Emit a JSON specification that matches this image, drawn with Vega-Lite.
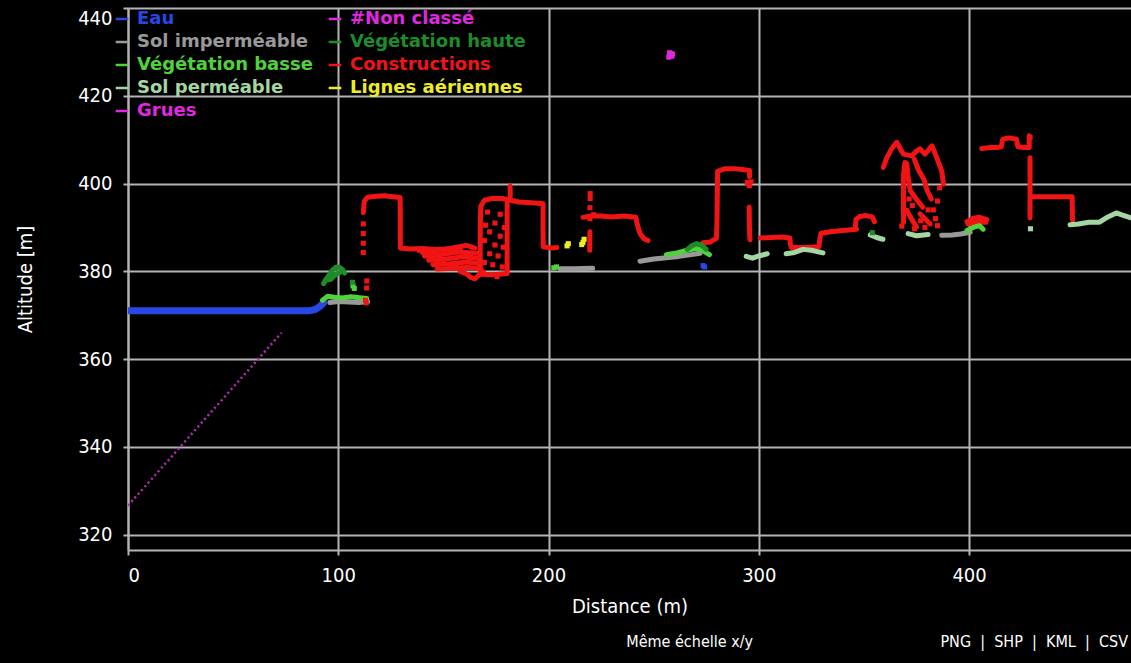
{
  "$schema": "https://vega.github.io/schema/vega-lite/v6.json",
  "width": 1003,
  "height": 542,
  "autosize": {"type": "none"},
  "padding": {"left": 128, "top": 8, "right": 0, "bottom": 113},
  "background": "#000000",
  "title": {
    "text": "Même échelle x/y\u00a0\u00a0\u00a0\u00a0\u00a0\u00a0\u00a0\u00a0\u00a0\u00a0\u00a0\u00a0\u00a0\u00a0\u00a0\u00a0\u00a0\u00a0\u00a0\u00a0\u00a0\u00a0\u00a0\u00a0\u00a0\u00a0\u00a0\u00a0\u00a0\u00a0\u00a0\u00a0\u00a0\u00a0\u00a0\u00a0\u00a0\u00a0\u00a0\u00a0\u00a0PNG\u00a0\u00a0|\u00a0\u00a0SHP\u00a0\u00a0|\u00a0\u00a0KML\u00a0\u00a0|\u00a0\u00a0CSV",
    "orient": "bottom",
    "anchor": "end",
    "color": "#ffffff",
    "font": "DejaVu Sans Condensed, Liberation Sans Narrow, DejaVu Sans",
    "fontSize": 16,
    "fontWeight": "normal",
    "offset": 18,
    "dx": -3
  },
  "datasets": {
    "slope": [
      {"x": 0, "y": 326.6},
      {"x": 73, "y": 366.0}
    ],
    "lines": [
      {"s":"e1","c":"Eau","i":1,"x":0,"y":371.0},
      {"s":"e1","c":"Eau","i":2,"x":30,"y":371.0},
      {"s":"e1","c":"Eau","i":3,"x":60,"y":371.0},
      {"s":"e1","c":"Eau","i":4,"x":86,"y":371.0},
      {"s":"e1","c":"Eau","i":5,"x":89,"y":371.3},
      {"s":"e1","c":"Eau","i":6,"x":91,"y":371.9},
      {"s":"e1","c":"Eau","i":7,"x":93,"y":372.8},

      {"s":"si1","c":"Sol imperméable","i":1,"x":96,"y":372.9},
      {"s":"si1","c":"Sol imperméable","i":2,"x":100,"y":373.1},
      {"s":"si1","c":"Sol imperméable","i":3,"x":105,"y":373.0},
      {"s":"si1","c":"Sol imperméable","i":4,"x":110,"y":372.9},
      {"s":"si1","c":"Sol imperméable","i":5,"x":114,"y":373.1},

      {"s":"vb1","c":"Végétation basse","i":1,"x":92.5,"y":373.4},
      {"s":"vb1","c":"Végétation basse","i":2,"x":95,"y":374.3},
      {"s":"vb1","c":"Végétation basse","i":3,"x":98,"y":374.1},
      {"s":"vb1","c":"Végétation basse","i":4,"x":102,"y":373.9},
      {"s":"vb1","c":"Végétation basse","i":5,"x":106,"y":374.2},
      {"s":"vb1","c":"Végétation basse","i":6,"x":110,"y":374.0},
      {"s":"vb1","c":"Végétation basse","i":7,"x":113.5,"y":373.8},

      {"s":"vh1","c":"Végétation haute","i":1,"x":93,"y":377.2},
      {"s":"vh1","c":"Végétation haute","i":2,"x":94.5,"y":378.4},
      {"s":"vh1","c":"Végétation haute","i":3,"x":96,"y":379.4},
      {"s":"vh1","c":"Végétation haute","i":4,"x":97.5,"y":380.4},
      {"s":"vh1","c":"Végétation haute","i":5,"x":99,"y":381.0},
      {"s":"vh1","c":"Végétation haute","i":6,"x":100.5,"y":380.9},
      {"s":"vh1","c":"Végétation haute","i":7,"x":102,"y":380.4},
      {"s":"vh1","c":"Végétation haute","i":8,"x":103,"y":379.6},
      {"s":"vh2","c":"Végétation haute","i":1,"x":94,"y":378.0},
      {"s":"vh2","c":"Végétation haute","i":2,"x":96.5,"y":378.2},
      {"s":"vh2","c":"Végétation haute","i":3,"x":99,"y":379.4},
      {"s":"vh2","c":"Végétation haute","i":4,"x":101,"y":379.8},

      {"s":"c1","c":"Constructions","i":1,"x":111.9,"y":393.4},
      {"s":"c1","c":"Constructions","i":2,"x":112.4,"y":396.0},
      {"s":"c1","c":"Constructions","i":3,"x":114,"y":396.9},
      {"s":"c1","c":"Constructions","i":4,"x":118,"y":397.1},
      {"s":"c1","c":"Constructions","i":5,"x":122,"y":397.2},
      {"s":"c1","c":"Constructions","i":6,"x":126,"y":397.0},
      {"s":"c1","c":"Constructions","i":7,"x":129.4,"y":396.8},
      {"s":"c1","c":"Constructions","i":8,"x":129.5,"y":393},
      {"s":"c1","c":"Constructions","i":9,"x":129.5,"y":389},
      {"s":"c1","c":"Constructions","i":10,"x":129.5,"y":385.3},
      {"s":"c1","c":"Constructions","i":11,"x":134,"y":385.1},
      {"s":"c1","c":"Constructions","i":12,"x":140,"y":385.2},
      {"s":"c1","c":"Constructions","i":13,"x":146,"y":385.0},
      {"s":"c1","c":"Constructions","i":14,"x":152,"y":385.1},
      {"s":"c1","c":"Constructions","i":15,"x":158,"y":385.0},

      {"s":"m1","c":"Constructions","i":1,"x":140,"y":384.3},
      {"s":"m1","c":"Constructions","i":2,"x":148,"y":384.8},
      {"s":"m1","c":"Constructions","i":3,"x":155,"y":385.4},
      {"s":"m1","c":"Constructions","i":4,"x":161,"y":385.9},
      {"s":"m1","c":"Constructions","i":5,"x":165,"y":385.3},
      {"s":"m2","c":"Constructions","i":1,"x":141,"y":383.5},
      {"s":"m2","c":"Constructions","i":2,"x":149,"y":383.8},
      {"s":"m2","c":"Constructions","i":3,"x":157,"y":384.4},
      {"s":"m2","c":"Constructions","i":4,"x":166,"y":384.1},
      {"s":"m3","c":"Constructions","i":1,"x":143,"y":382.5},
      {"s":"m3","c":"Constructions","i":2,"x":151,"y":382.8},
      {"s":"m3","c":"Constructions","i":3,"x":159,"y":383.3},
      {"s":"m3","c":"Constructions","i":4,"x":167,"y":382.9},
      {"s":"m4","c":"Constructions","i":1,"x":145,"y":381.5},
      {"s":"m4","c":"Constructions","i":2,"x":153,"y":381.7},
      {"s":"m4","c":"Constructions","i":3,"x":161,"y":382.1},
      {"s":"m4","c":"Constructions","i":4,"x":168,"y":381.7},
      {"s":"m5","c":"Constructions","i":1,"x":147,"y":380.5},
      {"s":"m5","c":"Constructions","i":2,"x":155,"y":380.7},
      {"s":"m5","c":"Constructions","i":3,"x":162,"y":380.9},
      {"s":"m5","c":"Constructions","i":4,"x":168,"y":380.5},
      {"s":"m6","c":"Constructions","i":1,"x":158,"y":380.0},
      {"s":"m6","c":"Constructions","i":2,"x":161,"y":379.4},
      {"s":"m6","c":"Constructions","i":3,"x":163,"y":378.6},
      {"s":"m6","c":"Constructions","i":4,"x":165,"y":378.3},
      {"s":"m6","c":"Constructions","i":5,"x":167,"y":379.2},
      {"s":"m6","c":"Constructions","i":6,"x":169,"y":379.8},

      {"s":"b2","c":"Constructions","i":1,"x":167.5,"y":380.0},
      {"s":"b2","c":"Constructions","i":2,"x":167.5,"y":384},
      {"s":"b2","c":"Constructions","i":3,"x":167.5,"y":388},
      {"s":"b2","c":"Constructions","i":4,"x":167.6,"y":392},
      {"s":"b2","c":"Constructions","i":5,"x":167.8,"y":394.8},
      {"s":"b2","c":"Constructions","i":6,"x":169.5,"y":396.2},
      {"s":"b2","c":"Constructions","i":7,"x":173,"y":396.6},
      {"s":"b2","c":"Constructions","i":8,"x":178,"y":396.6},
      {"s":"b2","c":"Constructions","i":9,"x":181,"y":396.3},
      {"s":"b2","c":"Constructions","i":10,"x":186,"y":395.8},
      {"s":"b2","c":"Constructions","i":11,"x":192,"y":395.6},
      {"s":"b2","c":"Constructions","i":12,"x":197.4,"y":395.4},
      {"s":"b2","c":"Constructions","i":13,"x":197.4,"y":392},
      {"s":"b2","c":"Constructions","i":14,"x":197.4,"y":388.5},
      {"s":"b2","c":"Constructions","i":15,"x":197.5,"y":385.6},
      {"s":"b2","c":"Constructions","i":16,"x":201,"y":385.3},
      {"s":"b2","c":"Constructions","i":17,"x":204,"y":385.4},
      {"s":"b2r","c":"Constructions","i":1,"x":180.3,"y":379.6},
      {"s":"b2r","c":"Constructions","i":2,"x":180.3,"y":384},
      {"s":"b2r","c":"Constructions","i":3,"x":180.3,"y":388},
      {"s":"b2r","c":"Constructions","i":4,"x":180.3,"y":392},
      {"s":"b2r","c":"Constructions","i":5,"x":180.3,"y":395.6},
      {"s":"b2b","c":"Constructions","i":1,"x":167.5,"y":379.4},
      {"s":"b2b","c":"Constructions","i":2,"x":171,"y":379.2},
      {"s":"b2b","c":"Constructions","i":3,"x":175,"y":379.3},
      {"s":"b2b","c":"Constructions","i":4,"x":180.3,"y":379.5},
      {"s":"b2s","c":"Constructions","i":1,"x":181.7,"y":396.4},
      {"s":"b2s","c":"Constructions","i":2,"x":181.8,"y":398},
      {"s":"b2s","c":"Constructions","i":3,"x":181.7,"y":399.4},

      {"s":"c3","c":"Constructions","i":1,"x":216.4,"y":392.3},
      {"s":"c3","c":"Constructions","i":2,"x":220,"y":392.6},
      {"s":"c3","c":"Constructions","i":3,"x":225,"y":392.6},
      {"s":"c3","c":"Constructions","i":4,"x":230,"y":392.4},
      {"s":"c3","c":"Constructions","i":5,"x":236,"y":392.6},
      {"s":"c3","c":"Constructions","i":6,"x":241.5,"y":392.3},
      {"s":"c3","c":"Constructions","i":7,"x":242.3,"y":390.5},
      {"s":"c3","c":"Constructions","i":8,"x":243.5,"y":388.6},
      {"s":"c3","c":"Constructions","i":9,"x":245.5,"y":387.4},
      {"s":"c3","c":"Constructions","i":10,"x":247.3,"y":387.0},
      {"s":"c3v","c":"Constructions","i":1,"x":219.6,"y":384.8},
      {"s":"c3v","c":"Constructions","i":2,"x":219.6,"y":386.8},
      {"s":"c3v","c":"Constructions","i":3,"x":219.7,"y":389.0},

      {"s":"c4","c":"Constructions","i":1,"x":273.5,"y":386.5},
      {"s":"c4","c":"Constructions","i":2,"x":277,"y":386.7},
      {"s":"c4","c":"Constructions","i":3,"x":279.8,"y":387.5},
      {"s":"c4","c":"Constructions","i":4,"x":280.1,"y":391},
      {"s":"c4","c":"Constructions","i":5,"x":280.2,"y":395},
      {"s":"c4","c":"Constructions","i":6,"x":280.3,"y":399},
      {"s":"c4","c":"Constructions","i":7,"x":280.4,"y":402.8},
      {"s":"c4","c":"Constructions","i":8,"x":284,"y":403.4},
      {"s":"c4","c":"Constructions","i":9,"x":288,"y":403.4},
      {"s":"c4","c":"Constructions","i":10,"x":292,"y":403.2},
      {"s":"c4","c":"Constructions","i":11,"x":295.6,"y":403.0},
      {"s":"c4","c":"Constructions","i":12,"x":295.6,"y":401.6},
      {"s":"c4r","c":"Constructions","i":1,"x":295.4,"y":394.6},
      {"s":"c4r","c":"Constructions","i":2,"x":295.5,"y":391.5},
      {"s":"c4r","c":"Constructions","i":3,"x":295.6,"y":389},
      {"s":"c4r","c":"Constructions","i":4,"x":295.8,"y":387.2},

      {"s":"c5","c":"Constructions","i":1,"x":300.6,"y":387.6},
      {"s":"c5","c":"Constructions","i":2,"x":306,"y":387.7},
      {"s":"c5","c":"Constructions","i":3,"x":311,"y":387.8},
      {"s":"c5","c":"Constructions","i":4,"x":314.8,"y":387.6},
      {"s":"c5","c":"Constructions","i":5,"x":315.0,"y":386.2},
      {"s":"c5","c":"Constructions","i":6,"x":315.5,"y":385.4},
      {"s":"c5","c":"Constructions","i":7,"x":320,"y":385.4},
      {"s":"c5","c":"Constructions","i":8,"x":325,"y":385.5},
      {"s":"c5","c":"Constructions","i":9,"x":328.6,"y":385.6},
      {"s":"c5","c":"Constructions","i":10,"x":329,"y":387.2},
      {"s":"c5","c":"Constructions","i":11,"x":329.5,"y":388.6},
      {"s":"c5","c":"Constructions","i":12,"x":334,"y":389.0},
      {"s":"c5","c":"Constructions","i":13,"x":340,"y":389.3},
      {"s":"c5","c":"Constructions","i":14,"x":346.5,"y":389.6},
      {"s":"c6","c":"Constructions","i":1,"x":345.9,"y":390.0},
      {"s":"c6","c":"Constructions","i":2,"x":346.2,"y":391.8},
      {"s":"c6","c":"Constructions","i":3,"x":348,"y":392.5},
      {"s":"c6","c":"Constructions","i":4,"x":351,"y":392.7},
      {"s":"c6","c":"Constructions","i":5,"x":354,"y":392.4},
      {"s":"c6","c":"Constructions","i":6,"x":355,"y":391.3},

      {"s":"k1","c":"Constructions","i":1,"x":359.2,"y":403.7},
      {"s":"k1","c":"Constructions","i":2,"x":360.9,"y":405.9},
      {"s":"k1","c":"Constructions","i":3,"x":363,"y":407.8},
      {"s":"k1","c":"Constructions","i":4,"x":365.6,"y":409.4},
      {"s":"k1","c":"Constructions","i":5,"x":367,"y":408.2},
      {"s":"k1","c":"Constructions","i":6,"x":368.8,"y":406.7},
      {"s":"k1","c":"Constructions","i":7,"x":372.7,"y":406.3},
      {"s":"k1","c":"Constructions","i":8,"x":374.5,"y":407.2},
      {"s":"k1","c":"Constructions","i":9,"x":376.7,"y":407.9},
      {"s":"k1","c":"Constructions","i":10,"x":379,"y":406.7},
      {"s":"k1","c":"Constructions","i":11,"x":380.5,"y":407.5},
      {"s":"k1","c":"Constructions","i":12,"x":382.3,"y":408.6},
      {"s":"k1","c":"Constructions","i":13,"x":383.5,"y":407.3},
      {"s":"k1","c":"Constructions","i":14,"x":384.6,"y":405.9},
      {"s":"k1","c":"Constructions","i":15,"x":387,"y":402.9},
      {"s":"k1","c":"Constructions","i":16,"x":387.8,"y":399.9},
      {"s":"k2","c":"Constructions","i":1,"x":368.8,"y":391.2},
      {"s":"k2","c":"Constructions","i":2,"x":368.8,"y":394.5},
      {"s":"k2","c":"Constructions","i":3,"x":368.8,"y":398},
      {"s":"k2","c":"Constructions","i":4,"x":368.8,"y":401.8},
      {"s":"k2","c":"Constructions","i":5,"x":369.5,"y":404.8},
      {"s":"k3","c":"Constructions","i":1,"x":370.4,"y":404.5},
      {"s":"k3","c":"Constructions","i":2,"x":371,"y":401.4},
      {"s":"k3","c":"Constructions","i":3,"x":372,"y":398.4},
      {"s":"k3","c":"Constructions","i":4,"x":375,"y":396.4},
      {"s":"k3","c":"Constructions","i":5,"x":378,"y":394.6},
      {"s":"k4","c":"Constructions","i":1,"x":370.4,"y":393.9},
      {"s":"k4","c":"Constructions","i":2,"x":372.5,"y":392},
      {"s":"k4","c":"Constructions","i":3,"x":375,"y":390.1},
      {"s":"k5","c":"Constructions","i":1,"x":376.7,"y":393.1},
      {"s":"k5","c":"Constructions","i":2,"x":379,"y":392},
      {"s":"k5","c":"Constructions","i":3,"x":381.5,"y":390.8},
      {"s":"k6","c":"Constructions","i":1,"x":374,"y":405.5},
      {"s":"k6","c":"Constructions","i":2,"x":376,"y":403},
      {"s":"k6","c":"Constructions","i":3,"x":378.5,"y":401},
      {"s":"k6","c":"Constructions","i":4,"x":380,"y":398.5},
      {"s":"k6","c":"Constructions","i":5,"x":382,"y":396.5},

      {"s":"c7","c":"Constructions","i":1,"x":399,"y":391.3},
      {"s":"c7","c":"Constructions","i":2,"x":402,"y":392.1},
      {"s":"c7","c":"Constructions","i":3,"x":405,"y":392.3},
      {"s":"c7","c":"Constructions","i":4,"x":408.4,"y":391.8},
      {"s":"c7b","c":"Constructions","i":1,"x":399.5,"y":390.8},
      {"s":"c7b","c":"Constructions","i":2,"x":404,"y":391.2},
      {"s":"c7b","c":"Constructions","i":3,"x":408,"y":391.2},

      {"s":"c8","c":"Constructions","i":1,"x":406,"y":408.0},
      {"s":"c8","c":"Constructions","i":2,"x":410,"y":408.2},
      {"s":"c8","c":"Constructions","i":3,"x":413,"y":408.2},
      {"s":"c8","c":"Constructions","i":4,"x":415.3,"y":408.4},
      {"s":"c8","c":"Constructions","i":5,"x":416,"y":410.1},
      {"s":"c8","c":"Constructions","i":6,"x":419,"y":410.4},
      {"s":"c8","c":"Constructions","i":7,"x":422.5,"y":410.1},
      {"s":"c8","c":"Constructions","i":8,"x":423.2,"y":408.4},
      {"s":"c8","c":"Constructions","i":9,"x":426,"y":408.2},
      {"s":"c8","c":"Constructions","i":10,"x":428.6,"y":408.2},
      {"s":"c8","c":"Constructions","i":11,"x":428.6,"y":410.9},
      {"s":"c9","c":"Constructions","i":1,"x":429,"y":405.9},
      {"s":"c9","c":"Constructions","i":2,"x":429,"y":402},
      {"s":"c9","c":"Constructions","i":3,"x":429,"y":398},
      {"s":"c9","c":"Constructions","i":4,"x":429,"y":395},
      {"s":"c9","c":"Constructions","i":5,"x":429,"y":392.2},
      {"s":"c9b","c":"Constructions","i":1,"x":429.2,"y":397.0},
      {"s":"c9b","c":"Constructions","i":2,"x":435,"y":397.0},
      {"s":"c9b","c":"Constructions","i":3,"x":442,"y":397.0},
      {"s":"c9b","c":"Constructions","i":4,"x":449,"y":397.0},
      {"s":"c9b","c":"Constructions","i":5,"x":449.1,"y":394.3},
      {"s":"c9b","c":"Constructions","i":6,"x":449.2,"y":391.7},

      {"s":"si2","c":"Sol imperméable","i":1,"x":205.5,"y":380.6},
      {"s":"si2","c":"Sol imperméable","i":2,"x":212,"y":380.6},
      {"s":"si2","c":"Sol imperméable","i":3,"x":221,"y":380.7},
      {"s":"si3","c":"Sol imperméable","i":1,"x":243.5,"y":382.3},
      {"s":"si3","c":"Sol imperméable","i":2,"x":250,"y":382.8},
      {"s":"si3","c":"Sol imperméable","i":3,"x":256,"y":383.1},
      {"s":"si3","c":"Sol imperméable","i":4,"x":262,"y":383.4},
      {"s":"si3","c":"Sol imperméable","i":5,"x":268,"y":383.8},
      {"s":"si3","c":"Sol imperméable","i":6,"x":272,"y":384.1},
      {"s":"si4","c":"Sol imperméable","i":1,"x":387,"y":388.2},
      {"s":"si4","c":"Sol imperméable","i":2,"x":392,"y":388.3},
      {"s":"si4","c":"Sol imperméable","i":3,"x":396,"y":388.5},
      {"s":"si4","c":"Sol imperméable","i":4,"x":400.5,"y":388.9},

      {"s":"vb2","c":"Végétation basse","i":1,"x":256,"y":383.8},
      {"s":"vb2","c":"Végétation basse","i":2,"x":261,"y":384.2},
      {"s":"vb2","c":"Végétation basse","i":3,"x":266,"y":384.8},
      {"s":"vb2","c":"Végétation basse","i":4,"x":270,"y":385.2},
      {"s":"vb2","c":"Végétation basse","i":5,"x":273,"y":384.8},
      {"s":"vb2","c":"Végétation basse","i":6,"x":276.5,"y":383.8},
      {"s":"vh3","c":"Végétation haute","i":1,"x":266,"y":385.0},
      {"s":"vh3","c":"Végétation haute","i":2,"x":268,"y":385.8},
      {"s":"vh3","c":"Végétation haute","i":3,"x":270.5,"y":386.3},
      {"s":"vh3","c":"Végétation haute","i":4,"x":273,"y":385.9},
      {"s":"vh3","c":"Végétation haute","i":5,"x":275,"y":385.0},
      {"s":"vb3","c":"Végétation basse","i":1,"x":399,"y":389.3},
      {"s":"vb3","c":"Végétation basse","i":2,"x":402,"y":390.0},
      {"s":"vb3","c":"Végétation basse","i":3,"x":405,"y":390.4},
      {"s":"vb3","c":"Végétation basse","i":4,"x":406.7,"y":389.6},

      {"s":"sp1","c":"Sol perméable","i":1,"x":294,"y":383.4},
      {"s":"sp1","c":"Sol perméable","i":2,"x":297,"y":383.0},
      {"s":"sp1","c":"Sol perméable","i":3,"x":300,"y":383.5},
      {"s":"sp1","c":"Sol perméable","i":4,"x":304,"y":384.0},
      {"s":"sp2","c":"Sol perméable","i":1,"x":313,"y":384.0},
      {"s":"sp2","c":"Sol perméable","i":2,"x":317,"y":384.3},
      {"s":"sp2","c":"Sol perméable","i":3,"x":321,"y":385.0},
      {"s":"sp2","c":"Sol perméable","i":4,"x":325,"y":384.8},
      {"s":"sp2","c":"Sol perméable","i":5,"x":330.5,"y":384.2},
      {"s":"sp3","c":"Sol perméable","i":1,"x":353,"y":388.3},
      {"s":"sp3","c":"Sol perméable","i":2,"x":356,"y":387.7},
      {"s":"sp3","c":"Sol perméable","i":3,"x":359,"y":387.3},
      {"s":"sp4","c":"Sol perméable","i":1,"x":371,"y":388.6},
      {"s":"sp4","c":"Sol perméable","i":2,"x":375,"y":388.1},
      {"s":"sp4","c":"Sol perméable","i":3,"x":380.5,"y":388.4},
      {"s":"sp5","c":"Sol perméable","i":1,"x":448,"y":390.6},
      {"s":"sp5","c":"Sol perméable","i":2,"x":452,"y":390.8},
      {"s":"sp5","c":"Sol perméable","i":3,"x":457,"y":391.2},
      {"s":"sp5","c":"Sol perméable","i":4,"x":462,"y":391.2},
      {"s":"sp5","c":"Sol perméable","i":5,"x":466,"y":392.4},
      {"s":"sp5","c":"Sol perméable","i":6,"x":470,"y":393.3},
      {"s":"sp5","c":"Sol perméable","i":7,"x":473,"y":392.8},
      {"s":"sp5","c":"Sol perméable","i":8,"x":477,"y":392.2}
    ],
    "pts": [
      {"c":"Constructions","x":111.9,"y":384.3},
      {"c":"Constructions","x":111.9,"y":386.4},
      {"c":"Constructions","x":111.9,"y":388.6},
      {"c":"Constructions","x":111.9,"y":390.8},
      {"c":"Constructions","x":113.5,"y":376.2},
      {"c":"Constructions","x":113.6,"y":377.8},
      {"c":"Constructions","x":113.3,"y":372.8},
      {"c":"Constructions","x":112.9,"y":373.4},
      {"c":"Constructions","x":169.5,"y":382},
      {"c":"Constructions","x":172,"y":384},
      {"c":"Constructions","x":174.5,"y":386},
      {"c":"Constructions","x":177,"y":388},
      {"c":"Constructions","x":179,"y":390},
      {"c":"Constructions","x":169.5,"y":387},
      {"c":"Constructions","x":172,"y":389},
      {"c":"Constructions","x":174.5,"y":391},
      {"c":"Constructions","x":177,"y":393},
      {"c":"Constructions","x":171,"y":393.5},
      {"c":"Constructions","x":173.5,"y":381.5},
      {"c":"Constructions","x":176,"y":383.5},
      {"c":"Constructions","x":178.5,"y":385.5},
      {"c":"Constructions","x":170,"y":390.5},
      {"c":"Constructions","x":175.5,"y":378.8},
      {"c":"Constructions","x":178,"y":381},
      {"c":"Constructions","x":219.7,"y":392.0},
      {"c":"Constructions","x":219.7,"y":394.5},
      {"c":"Constructions","x":219.8,"y":396.6},
      {"c":"Constructions","x":219.8,"y":397.7},
      {"c":"Constructions","x":221.5,"y":392.9},
      {"c":"Constructions","x":294.5,"y":400.2},
      {"c":"Constructions","x":296.3,"y":400.4},
      {"c":"Constructions","x":295.5,"y":399.5},
      {"c":"Constructions","x":386,"y":399},
      {"c":"Constructions","x":385,"y":396},
      {"c":"Constructions","x":383,"y":394},
      {"c":"Constructions","x":371.5,"y":396.5},
      {"c":"Constructions","x":373,"y":395},
      {"c":"Constructions","x":377,"y":391.5},
      {"c":"Constructions","x":380.5,"y":394},
      {"c":"Constructions","x":384,"y":392},
      {"c":"Constructions","x":368,"y":390.3},
      {"c":"Constructions","x":374,"y":389.7},
      {"c":"Constructions","x":379,"y":390},
      {"c":"Constructions","x":385,"y":390.4},
      {"c":"Constructions","x":429,"y":410.5},
      {"c":"Constructions","x":145,"y":383},
      {"c":"Constructions","x":150,"y":382},
      {"c":"Constructions","x":156,"y":381.5},
      {"c":"Constructions","x":163,"y":383.5},
      {"c":"Constructions","x":138.5,"y":384.8},
      {"c":"Eau","x":273.5,"y":381.3},
      {"c":"Eau","x":274.2,"y":381.0},
      {"c":"Lignes aériennes","x":208.8,"y":385.8},
      {"c":"Lignes aériennes","x":209.4,"y":386.3},
      {"c":"Lignes aériennes","x":216.4,"y":386.6},
      {"c":"Lignes aériennes","x":216.9,"y":387.3},
      {"c":"Lignes aériennes","x":215.8,"y":386.1},
      {"c":"Végétation basse","x":107,"y":376.7},
      {"c":"Végétation basse","x":107.6,"y":376.1},
      {"c":"Végétation basse","x":202.5,"y":380.8},
      {"c":"Végétation basse","x":203.8,"y":381.0},
      {"c":"Végétation haute","x":354,"y":388.8},
      {"c":"Végétation haute","x":106.8,"y":377.5},
      {"c":"Sol perméable","x":429.2,"y":389.7},
      {"c":"Grues","x":257.8,"y":429.2},
      {"c":"Grues","x":258.6,"y":429.0},
      {"c":"Grues","x":257.2,"y":428.8},
      {"c":"Grues","x":258.2,"y":429.6},
      {"c":"Grues","x":257.6,"y":429.8},
      {"c":"Grues","x":258.9,"y":429.5}
    ]
  },
  "encoding": {
    "x": {
      "field": "x", "type": "quantitative",
      "scale": {"domain": [0, 477], "nice": false, "zero": false},
      "axis": {"values": [0, 100, 200, 300, 400], "title": "Distance (m)", "labelPadding": 10, "titlePadding": 11}
    },
    "y": {
      "field": "y", "type": "quantitative",
      "scale": {"domain": [316.5, 440], "nice": false, "zero": false},
      "axis": {"values": [320, 340, 360, 380, 400, 420, 440], "title": "Altitude [m]", "labelPadding": 11, "titlePadding": 42, "labelFlush": true}
    }
  },
  "layer": [
    {
      "data": {"name": "slope"},
      "mark": {"type": "line", "color": "#b52db5", "strokeDash": [2, 3], "strokeWidth": 2.5, "clip": true},
      "encoding": {}
    },
    {
      "data": {"name": "lines"},
      "transform": [{"filter": "datum.c == 'Eau'"}],
      "mark": {"type": "line", "strokeWidth": 7, "strokeCap": "round", "strokeJoin": "round", "clip": true},
      "encoding": {
        "color": {"field": "c", "type": "nominal",
          "scale": {"domain": ["Eau", "#Non classé", "Sol imperméable", "Végétation haute", "Végétation basse", "Constructions", "Sol perméable", "Lignes aériennes", "Grues"],
                    "range": ["#2848e6", "#e028e0", "#999999", "#1e8c28", "#50d23c", "#f01414", "#a4d6a4", "#ecec28", "#e028e0"]}},
        "detail": {"field": "s"},
        "order": {"field": "i"}
      }
    },
    {
      "data": {"name": "lines"},
      "transform": [{"filter": "datum.c != 'Eau'"}],
      "mark": {"type": "line", "strokeWidth": 5, "strokeCap": "round", "strokeJoin": "round", "clip": true},
      "encoding": {
        "color": {"field": "c", "type": "nominal",
          "scale": {"domain": ["Eau", "#Non classé", "Sol imperméable", "Végétation haute", "Végétation basse", "Constructions", "Sol perméable", "Lignes aériennes", "Grues"],
                    "range": ["#2848e6", "#e028e0", "#999999", "#1e8c28", "#50d23c", "#f01414", "#a4d6a4", "#ecec28", "#e028e0"]}},
        "detail": {"field": "s"},
        "order": {"field": "i"}
      }
    },
    {
      "data": {"name": "pts"},
      "mark": {"type": "square", "size": 26, "opacity": 1, "clip": true},
      "encoding": {
        "color": {"field": "c", "type": "nominal",
          "scale": {"domain": ["Eau", "#Non classé", "Sol imperméable", "Végétation haute", "Végétation basse", "Constructions", "Sol perméable", "Lignes aériennes", "Grues"],
                    "range": ["#2848e6", "#e028e0", "#999999", "#1e8c28", "#50d23c", "#f01414", "#a4d6a4", "#ecec28", "#e028e0"]},
          "legend": {
            "orient": "none", "legendX": -15, "legendY": 2,
            "direction": "horizontal", "columns": 2, "title": null,
            "symbolType": "stroke", "symbolStrokeWidth": 2.5, "symbolSize": 160,
            "labelFont": "DejaVu Sans", "labelFontWeight": "bold", "labelFontSize": 18,
            "labelColor": {"expr": "scale('color', datum.value)"},
            "labelLimit": 0, "labelOffset": 6, "columnPadding": 10, "rowPadding": 5
          }
        }
      }
    }
  ],
  "config": {
    "view": {"stroke": null, "fill": "#000000"},
    "axis": {
      "gridColor": "#b4b4b4", "gridWidth": 2, "gridOpacity": 1,
      "domainColor": "#b4b4b4", "domainWidth": 2,
      "tickColor": "#b4b4b4", "tickSize": 5, "tickWidth": 2,
      "labelColor": "#ffffff", "labelFont": "DejaVu Sans Condensed, Liberation Sans Narrow, DejaVu Sans", "labelFontSize": 20,
      "titleColor": "#ffffff", "titleFont": "DejaVu Sans Condensed, Liberation Sans Narrow, DejaVu Sans", "titleFontSize": 20, "titleFontWeight": "normal"
    }
  }
}
